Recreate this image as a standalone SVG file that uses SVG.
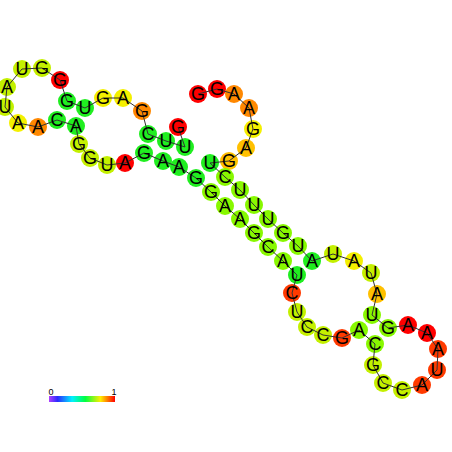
<svg xmlns="http://www.w3.org/2000/svg" width="452" height="452" viewBox="0 0 452 452">
<style>
.n circle{r:9px;stroke:none}
.n text{font-family:"Liberation Sans",Arial,sans-serif;font-size:18px;fill:#000;text-anchor:middle;dominant-baseline:central}
.bb{fill:none;stroke:#333;stroke-width:1}
.R circle{fill:#ff0000}.RO circle{fill:#ff3a00}.O circle{fill:#ff8800}.YO circle{fill:#ffc000}.Y circle{fill:#f4f000}.YG circle{fill:#c4f000}.LG circle{fill:#88f800}.G circle{fill:#20ee20}
.lbl{font-family:"Liberation Sans",Arial,sans-serif;font-size:9px;fill:#000;text-anchor:middle}
</style>
<defs>
<linearGradient id="scale" x1="0" x2="1" y1="0" y2="0">
<stop offset="0" stop-color="#b040ff"/>
<stop offset="0.13" stop-color="#2a2aff"/>
<stop offset="0.35" stop-color="#00f0ff"/>
<stop offset="0.55" stop-color="#00ff40"/>
<stop offset="0.78" stop-color="#ffee00"/>
<stop offset="1" stop-color="#ff0000"/>
</linearGradient>
</defs>
<rect width="452" height="452" fill="#fff"/>
<g id="circles">
<g id="n1" class="n R"><circle cx="198" cy="94"/></g>
<g id="n2" class="n R"><circle cx="217" cy="89"/></g>
<g id="n3" class="n O"><circle cx="234" cy="94"/></g>
<g id="n4" class="n O"><circle cx="249" cy="108"/></g>
<g id="n5" class="n Y"><circle cx="253" cy="129"/></g>
<g id="n6" class="n YO"><circle cx="246" cy="148"/></g>
<g id="n7" class="n YO"><circle cx="229" cy="161"/></g>
<g id="n8" class="n G"><circle cx="210" cy="163"/></g>
<g id="n9" class="n LG"><circle cx="225" cy="177"/></g>
<g id="n10" class="n LG"><circle cx="240" cy="190"/></g>
<g id="n11" class="n LG"><circle cx="254" cy="205"/></g>
<g id="n12" class="n LG"><circle cx="268" cy="219"/></g>
<g id="n13" class="n LG"><circle cx="283" cy="233"/></g>
<g id="n14" class="n LG"><circle cx="298" cy="246"/></g>
<g id="n15" class="n G"><circle cx="312" cy="261"/></g>
<g id="n16" class="n YG"><circle cx="333" cy="254"/></g>
<g id="n17" class="n Y"><circle cx="354" cy="261"/></g>
<g id="n18" class="n YG"><circle cx="371" cy="273"/></g>
<g id="n19" class="n YO"><circle cx="377" cy="294"/></g>
<g id="n20" class="n LG"><circle cx="372" cy="315"/></g>
<g id="n21" class="n LG"><circle cx="388" cy="328"/></g>
<g id="n22" class="n R"><circle cx="408" cy="325"/></g>
<g id="n23" class="n R"><circle cx="427" cy="333"/></g>
<g id="n24" class="n RO"><circle cx="438" cy="349"/></g>
<g id="n25" class="n RO"><circle cx="437" cy="370"/></g>
<g id="n26" class="n RO"><circle cx="422" cy="385"/></g>
<g id="n27" class="n YG"><circle cx="402" cy="390"/></g>
<g id="n28" class="n YG"><circle cx="383" cy="383"/></g>
<g id="n29" class="n YG"><circle cx="373" cy="365"/></g>
<g id="n30" class="n LG"><circle cx="375" cy="344"/></g>
<g id="n31" class="n LG"><circle cx="359" cy="330"/></g>
<g id="n32" class="n RO"><circle cx="342" cy="338"/></g>
<g id="n33" class="n YG"><circle cx="323" cy="335"/></g>
<g id="n34" class="n YG"><circle cx="307" cy="327"/></g>
<g id="n35" class="n YG"><circle cx="297" cy="312"/></g>
<g id="n36" class="n RO"><circle cx="292" cy="293"/></g>
<g id="n37" class="n G"><circle cx="297" cy="275"/></g>
<g id="n38" class="n LG"><circle cx="283" cy="261"/></g>
<g id="n39" class="n LG"><circle cx="268" cy="247"/></g>
<g id="n40" class="n LG"><circle cx="254" cy="233"/></g>
<g id="n41" class="n LG"><circle cx="240" cy="219"/></g>
<g id="n42" class="n LG"><circle cx="225" cy="206"/></g>
<g id="n43" class="n LG"><circle cx="211" cy="192"/></g>
<g id="n44" class="n G"><circle cx="196" cy="178"/></g>
<g id="n45" class="n G"><circle cx="179" cy="167"/></g>
<g id="n46" class="n G"><circle cx="163" cy="161"/></g>
<g id="n47" class="n G"><circle cx="144" cy="153"/></g>
<g id="n48" class="n R"><circle cx="125" cy="163"/></g>
<g id="n49" class="n YG"><circle cx="107" cy="165"/></g>
<g id="n50" class="n YG"><circle cx="90" cy="158"/></g>
<g id="n51" class="n YG"><circle cx="79" cy="144"/></g>
<g id="n52" class="n G"><circle cx="76" cy="126"/></g>
<g id="n53" class="n G"><circle cx="57" cy="120"/></g>
<g id="n54" class="n O"><circle cx="38" cy="127"/></g>
<g id="n55" class="n Y"><circle cx="18" cy="123"/></g>
<g id="n56" class="n YG"><circle cx="5" cy="107"/></g>
<g id="n57" class="n YG"><circle cx="7" cy="87"/></g>
<g id="n58" class="n YG"><circle cx="22" cy="69"/></g>
<g id="n59" class="n YG"><circle cx="42" cy="68"/></g>
<g id="n60" class="n R"><circle cx="60" cy="80"/></g>
<g id="n61" class="n G"><circle cx="67" cy="101"/></g>
<g id="n62" class="n G"><circle cx="85" cy="108"/></g>
<g id="n63" class="n Y"><circle cx="103" cy="98"/></g>
<g id="n64" class="n Y"><circle cx="123" cy="98"/></g>
<g id="n65" class="n O"><circle cx="142" cy="111"/></g>
<g id="n66" class="n G"><circle cx="148" cy="134"/></g>
<g id="n67" class="n G"><circle cx="166" cy="141"/></g>
<g id="n68" class="n G"><circle cx="185" cy="147"/></g>
<g id="n69" class="n R"><circle cx="178" cy="127"/></g>
</g>
<g id="connectors">
<polyline class="bb" points="198,94 217,89 234,94 249,108 253,129 246,148 229,161 210,163 225,177 240,190 254,205 268,219 283,233 298,246 312,261 333,254 354,261 371,273 377,294 372,315 388,328 408,325 427,333 438,349 437,370 422,385 402,390 383,383 373,365 375,344 359,330 342,338 323,335 307,327 297,312 292,293 297,275 283,261 268,247 254,233 240,219 225,206 211,192 196,178 179,167 163,161 144,153 125,163 107,165 90,158 79,144 76,126 57,120 38,127 18,123 5,107 7,87 22,69 42,68 60,80 67,101 85,108 103,98 123,98 142,111 148,134 166,141 185,147 178,127"/>
</g>
<g id="letters" class="n">
<text x="198" y="94">G</text><text x="217" y="89">G</text><text x="234" y="94">A</text><text x="249" y="108">A</text><text x="253" y="129">G</text><text x="246" y="148">A</text><text x="229" y="161">G</text>
<text x="210" y="163">U</text><text x="225" y="177">C</text><text x="240" y="190">U</text><text x="254" y="205">U</text><text x="268" y="219">U</text><text x="283" y="233">G</text><text x="298" y="246">U</text><text x="312" y="261">A</text>
<text x="333" y="254">U</text><text x="354" y="261">A</text><text x="371" y="273">U</text><text x="377" y="294">A</text><text x="372" y="315">U</text><text x="388" y="328">G</text>
<text x="408" y="325">A</text><text x="427" y="333">A</text><text x="438" y="349">A</text><text x="437" y="370">U</text><text x="422" y="385">A</text><text x="402" y="390">C</text><text x="383" y="383">C</text><text x="373" y="365">G</text><text x="375" y="344">C</text>
<text x="359" y="330">A</text><text x="342" y="338">G</text><text x="323" y="335">C</text><text x="307" y="327">C</text><text x="297" y="312">U</text><text x="292" y="293">C</text><text x="297" y="275">U</text>
<text x="283" y="261">A</text><text x="268" y="247">C</text><text x="254" y="233">G</text><text x="240" y="219">A</text><text x="225" y="206">A</text><text x="211" y="192">G</text><text x="196" y="178">G</text>
<text x="179" y="167">A</text><text x="163" y="161">A</text><text x="144" y="153">G</text><text x="125" y="163">A</text><text x="107" y="165">U</text><text x="90" y="158">G</text><text x="79" y="144">G</text>
<text x="76" y="126">A</text><text x="57" y="120">C</text><text x="38" y="127">A</text><text x="18" y="123">A</text><text x="5" y="107">U</text><text x="7" y="87">A</text><text x="22" y="69">U</text><text x="42" y="68">G</text><text x="60" y="80">G</text>
<text x="67" y="101">G</text><text x="85" y="108">U</text><text x="103" y="98">G</text><text x="123" y="98">A</text><text x="142" y="111">G</text><text x="148" y="134">C</text><text x="166" y="141">U</text><text x="185" y="147">U</text><text x="178" y="127">G</text>
</g>
<g id="colorbar">
<rect x="49" y="396" width="66" height="6" fill="url(#scale)"/>
<text class="lbl" x="51" y="395">0</text>
<text class="lbl" x="114" y="395">1</text>
</g>
</svg>
